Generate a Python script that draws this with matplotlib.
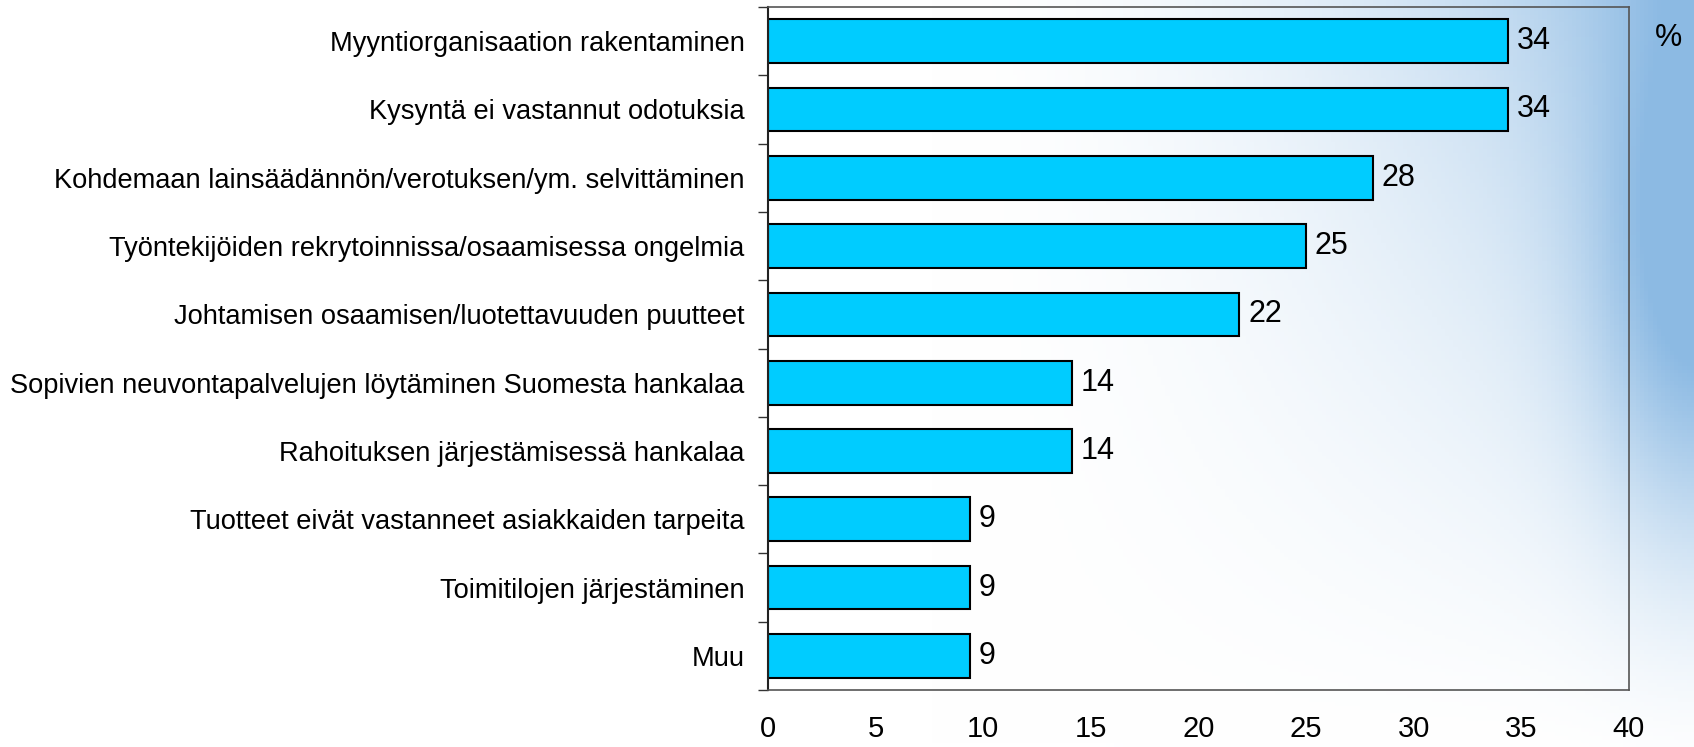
import numpy as np
import matplotlib
matplotlib.use("Agg")
import matplotlib.pyplot as plt

plt.rcParams['font.family'] = ['Liberation Sans', 'DejaVu Sans']

# Data
categories = [
    "Myyntiorganisaation rakentaminen",
    "Kysyntä ei vastannut odotuksia",
    "Kohdemaan lainsäädännön/verotuksen/ym. selvittäminen",
    "Työntekijöiden rekrytoinnissa/osaamisessa ongelmia",
    "Johtamisen osaamisen/luotettavuuden puutteet",
    "Sopivien neuvontapalvelujen löytäminen Suomesta hankalaa",
    "Rahoituksen järjestämisessä hankalaa",
    "Tuotteet eivät vastanneet asiakkaiden tarpeita",
    "Toimitilojen järjestäminen",
    "Muu",
]
values = [34.4, 34.4, 28.1, 25.0, 21.9, 14.1, 14.1, 9.4, 9.4, 9.4]
xticks = [0, 5, 10, 15, 20, 25, 30, 35, 40]

fig = plt.figure(figsize=(16.94, 7.47), dpi=100)

# --- background gradient (white -> light blue on the right) ---
bg = fig.add_axes([0, 0, 1, 1], zorder=-10)
h, w = 200, 400
xn = np.linspace(0, 1, w)[None, :]
yn = np.linspace(0, 1, h)[:, None]
a = np.clip((xn - 0.55) / 0.45, 0, 1) ** 1.8 * 0.8 * (1 - yn) ** 1.2
a = a + 0.6 * np.exp(-((xn - 1.0) / 0.06) ** 2) * np.exp(-((yn - 0.38) / 0.34) ** 2)
a = np.clip(a, 0, 0.9)[..., None]
blue = np.array([0.50, 0.70, 0.88])
img = (1 - a) * np.ones(3) + a * blue
bg.imshow(img, aspect='auto', extent=[0, 1, 0, 1], origin='upper')
bg.axis('off')

# --- main chart ---
ax = fig.add_axes([0.4534, 0.0763, 0.5082, 0.9143])
ax.patch.set_alpha(0)
y = np.arange(len(categories))
ax.barh(y, values, height=0.64, color='#00CCFF', edgecolor='black', linewidth=1.5)

for yi, v in zip(y, values):
    ax.text(v + 0.4, yi, f"{v:.0f}", va='center', ha='left', fontsize=22)

ax.set_xlim(0, 40)
ax.set_ylim(len(categories) - 0.5, -0.5)
ax.set_xticks(xticks)
ax.set_xticklabels([str(t) for t in xticks], fontsize=21)
ax.tick_params(axis='x', length=0, pad=18)

ax.set_yticks(y)
ax.set_yticklabels(categories, fontsize=19.6)
ax.set_yticks(np.arange(-0.5, len(categories)), minor=True)
ax.tick_params(axis='y', which='major', length=0, pad=17)
ax.tick_params(axis='y', which='minor', length=7, width=1, color='#333333', direction='out')

for side in ['top', 'right', 'bottom']:
    ax.spines[side].set_color('#555555')
    ax.spines[side].set_linewidth(1.2)
ax.spines['left'].set_color('#222222')
ax.spines['left'].set_linewidth(1.5)

fig.text(1668 / 1694, 1 - 38 / 747, '%', fontsize=22, ha='center', va='center')

fig.savefig('out.png', dpi=100)
